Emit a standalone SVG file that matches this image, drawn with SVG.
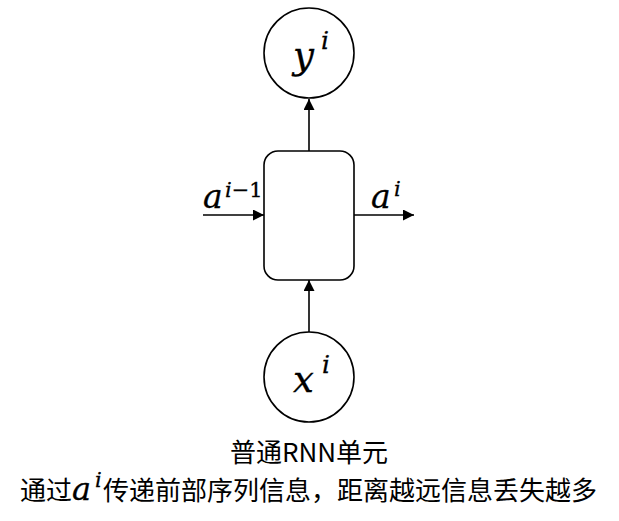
<svg xmlns="http://www.w3.org/2000/svg" width="619" height="521" viewBox="0 0 619 521">
<style>
.shape{fill:#fff;stroke:#000;stroke-width:1.6}
.conn{stroke:#000;stroke-width:1.6;fill:none}
.m{font-family:"DejaVu Serif",serif;font-style:italic;fill:#000;stroke:#000;stroke-width:0.3}
.up{font-style:normal}
.cap{font-family:"Noto Sans CJK SC","Noto Sans",sans-serif;font-size:26px;fill:#000}
</style>
<defs>
<marker id="ah" viewBox="0 0 10 10" refX="10" refY="5" markerWidth="11" markerHeight="11" markerUnits="userSpaceOnUse" orient="auto">
<path d="M0,0 L10,5 L0,10 z" fill="#000"/>
</marker>
</defs>
<rect width="619" height="521" fill="#fff"/>
<g id="connectors">
<line class="conn" x1="309" y1="151" x2="309" y2="99" marker-end="url(#ah)"/>
<line class="conn" x1="309" y1="332" x2="309" y2="280" marker-end="url(#ah)"/>
<line class="conn" x1="203" y1="215" x2="264" y2="215" marker-end="url(#ah)"/>
<line class="conn" x1="354" y1="215" x2="414" y2="215" marker-end="url(#ah)"/>
</g>
<g id="y-node">
<circle class="shape" cx="309" cy="53" r="45"/>
<text class="m" x="293" y="68" font-size="37">y</text>
<text class="m" x="321" y="49" font-size="25">i</text>
</g>
<g id="cell-node">
<rect class="shape" x="264" y="151" width="90" height="129" rx="14"/>
</g>
<g id="x-node">
<circle class="shape" cx="309" cy="377" r="45"/>
<text class="m" x="293" y="392" font-size="37">x</text>
<text class="m" x="322" y="373" font-size="25">i</text>
</g>
<g id="labels">
<text class="m" x="203" y="208" font-size="33">a</text>
<text class="m" x="225" y="197" font-size="21">i<tspan class="up">−1</tspan></text>
<text class="m" x="371" y="208" font-size="33">a</text>
<text class="m" x="394" y="196" font-size="21">i</text>
</g>
<g id="caption">
<text class="cap" x="309" y="462" text-anchor="middle">普通RNN单元</text>
<text class="cap" x="20" y="500">通过</text>
<text class="m" x="72" y="500" font-size="32">a</text>
<text class="m" x="95" y="487" font-size="21">i</text>
<text class="cap" x="103" y="500">传递前部序列信息，距离越远信息丢失越多</text>
</g>
</svg>
